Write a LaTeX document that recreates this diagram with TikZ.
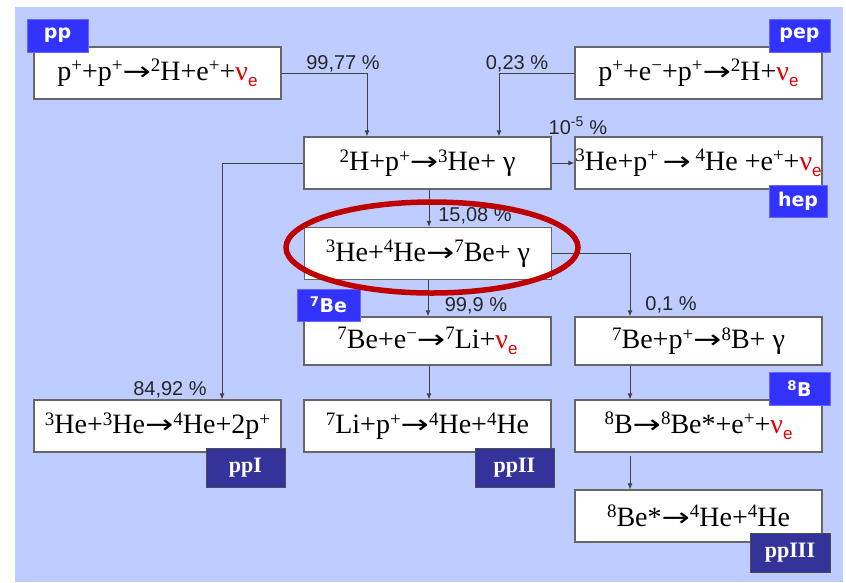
\documentclass[tikz,border=0pt]{standalone}
\usepackage{graphicx}
\usepackage{fontspec}
\setmainfont{Liberation Serif}
\setsansfont{Liberation Sans}
\newfontfamily\tagfont{DejaVu Sans}
\newfontfamily\arrowfont{DejaVu Sans}
\usetikzlibrary{arrows.meta,calc,shapes}

\definecolor{bgblue}{RGB}{190,204,255}
\definecolor{tagblue}{RGB}{51,51,255}
\definecolor{tagnavy}{RGB}{51,51,153}
\definecolor{nured}{RGB}{225,0,0}
\definecolor{ringred}{RGB}{190,0,0}

\newcommand{\nue}{{\color{nured}ν\raisebox{-0.22em}{\sffamily\fontsize{17}{17}\selectfont e}}}
\newcommand{\sps}[1]{\raisebox{0.3em}{\fontsize{19}{19}\selectfont #1}}
\newcommand{\ra}{\scalebox{1.3}[1]{\arrowfont\fontsize{26}{26}\selectfont →}}

\tikzset{
 reac/.style={draw=gray!80!black, line width=1.2pt, fill=white, minimum width=247pt, minimum height=52pt, inner sep=0pt, font=\fontsize{28}{32}\selectfont},
 chain/.style={fill=tagblue, draw=blue!60, line width=0.6pt, text=white, inner sep=0pt, font=\tagfont\bfseries\fontsize{19}{21}\selectfont, minimum width=61pt, minimum height=33pt},
 branch/.style={fill=tagnavy, draw=black!70, line width=0.8pt, text=white, inner sep=0pt, font=\bfseries\fontsize{22}{24}\selectfont, minimum width=79pt, minimum height=39pt},
 link/.style={draw=black!75, line width=1pt, -{Latex[length=6pt,width=5pt]}},
 pct/.style={text=black!85, inner sep=0pt, font=\sffamily\fontsize{20}{22}\selectfont},
}

\begin{document}
\begin{tikzpicture}[x=1pt,y=-1pt]
 \useasboundingbox (0,0) rectangle (846,582);
 \fill[bgblue] (15,7) rectangle (843,582);

 % reactions
 \node[reac] (pp) at (157.5,73) {p\sps{+}+p\sps{+}\ra\sps{2}H+e\sps{+}+\nue};
 \node[reac] (pep) at (698.5,73) {p\sps{+}+e\sps{−}+p\sps{+}\ra\sps{2}H+\nue};
 \node[reac] (dp) at (427.5,163) {\sps{2}H+p\sps{+}\ra\sps{3}He+ γ};
 \node[reac] (hep) at (698.5,163) {\sps{3}He+p\sps{+}\,\ra\,\sps{4}He +e\sps{+}+\nue};
 \node[reac] (hehe) at (428,253.5) {\sps{3}He+\sps{4}He\ra\sps{7}Be+ γ};
 \node[reac, minimum height=48pt] (becap) at (427.5,341) {\sps{7}Be+e\sps{−}\ra\sps{7}Li+\nue};
 \node[reac, minimum height=48pt] (bep) at (698.5,341) {\sps{7}Be+p\sps{+}\ra\sps{8}B+ γ};
 \node[reac] (ppone) at (157.5,426) {\sps{3}He+\sps{3}He\ra\sps{4}He+2p\sps{+}};
 \node[reac] (lip) at (427.5,426) {\sps{7}Li+p\sps{+}\ra\sps{4}He+\sps{4}He};
 \node[reac] (bdecay) at (698.5,426) {\sps{8}B\ra\sps{8}Be*+e\sps{+}+\nue};
 \node[reac] (bestar) at (698.5,516) {\sps{8}Be*\ra\sps{4}He+\sps{4}He};

 % branches
 \draw[link] (pp.east) -| ([xshift=-60.5pt]dp.north);
 \draw[link] (pep.west) -| ([xshift=71.5pt]dp.north);
 \draw[link] (dp.east) -- (hep.west);
 \draw[link] (dp.west) -| ([xshift=64.5pt]ppone.north);
 \draw[link] ([xshift=1.5pt]dp.south) -- ([xshift=1pt]hehe.north);
 \draw[link] (hehe.south) -- ([xshift=0.5pt]becap.north);
 \draw[link] (hehe.east) -| ([xshift=-68.5pt]bep.north);
 \draw[link] ([xshift=1.5pt]becap.south) -- ([xshift=1.5pt]lip.north);
 \draw[link] ([xshift=-68.5pt]bep.south) -- ([xshift=-68.5pt]bdecay.north);
 \draw[link] ([xshift=-68.5pt,yshift=-3pt]bdecay.south) -- ([xshift=-68.5pt]bestar.north);

 % rates
 \node[pct] (r1) at (343,64) {99,77 \%};
 \node[pct] (r2) at (517,64) {0,23 \%};
 \node[pct] (r3) at (578,126) {10\textsuperscript{-5} \%};
 \node[pct] (r4) at (170,390) {84,92 \%};
 \node[pct] (r5) at (475,216) {15,08 \%};
 \node[pct] (r6) at (476,306) {99,9 \%};
 \node[pct] (r7) at (671,305) {0,1 \%};

 % tags
 \node[chain] (tpp) at (57.5,35.5) {pp};
 \node[chain] (tpep) at (799.5,35.5) {pep};
 \node[chain, minimum width=58pt, minimum height=32pt] (thep) at (798,201) {hep};
 \node[chain, minimum width=63pt, minimum height=32pt] (tbe) at (328.5,305) {\textsuperscript{7}Be};
 \node[chain] (tb) at (799.5,388.5) {\textsuperscript{8}B};
 \node[branch] (tI) at (245.5,467.5) {ppI};
 \node[branch] (tII) at (514.5,467.5) {ppII};
 \node[branch, minimum width=80pt] (tIII) at (790,552.5) {ppIII};

 % ring
 \draw[ringred, line width=5.5pt] (432,247.5) ellipse [x radius=146pt, y radius=45.5pt];
\end{tikzpicture}
\end{document}
